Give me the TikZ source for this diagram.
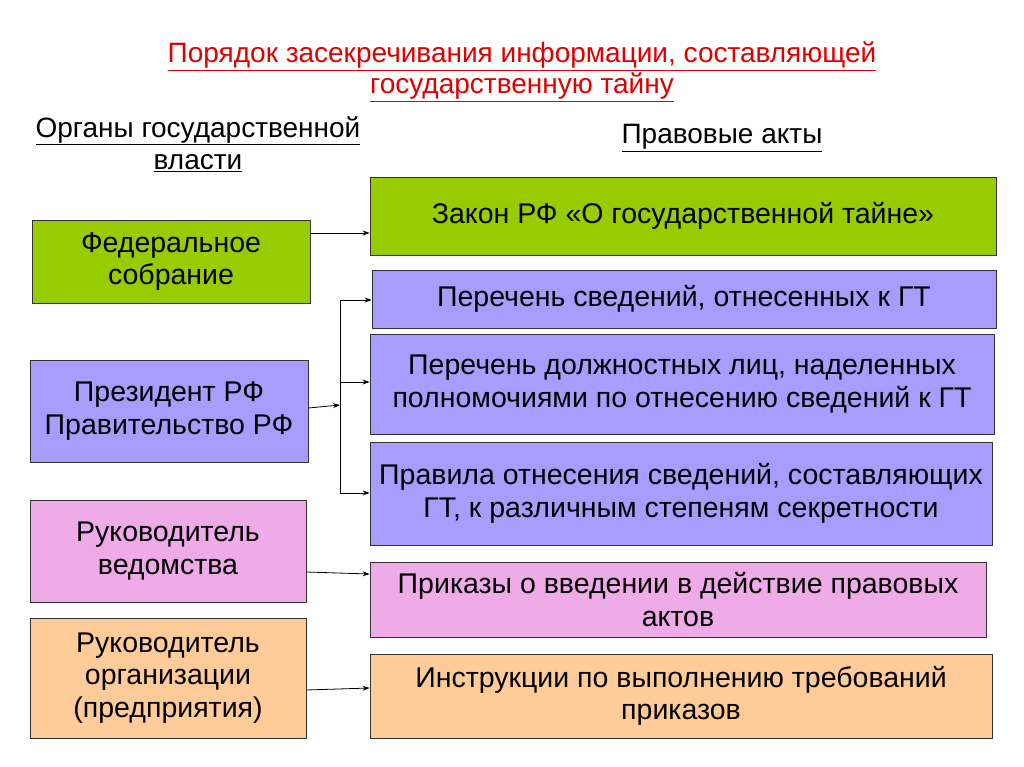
\documentclass[tikz,border=0pt]{standalone}
\usepackage{fontspec}
\setmainfont{Liberation Sans}
\usetikzlibrary{arrows.meta}
\definecolor{grn}{HTML}{99CC00}
\definecolor{lav}{HTML}{A99CFF}
\definecolor{pnk}{HTML}{EFAAE8}
\definecolor{ttl}{HTML}{E00000}
\definecolor{pch}{HTML}{FFCC99}
\begin{document}
\begin{tikzpicture}[x=1pt,y=-1pt,
  bx/.style={draw=black!80,line width=0.8pt,align=center,font=\fontsize{28.5}{32.5}\selectfont,inner sep=0pt},
  ar/.style={-{Stealth[length=7pt,width=5pt]},line width=0.8pt}]
\useasboundingbox (0,0) rectangle (1024,767);
\fill[white] (0,0) rectangle (1024,767);
\node[text=ttl,align=center,font=\fontsize{28}{31}\selectfont] (t) at (522,72) {\underline{Порядок засекречивания информации, составляющей}\\\underline{государственную тайну}};
\node[align=center,font=\fontsize{28}{32}\selectfont] (h1) at (198,144) {\underline{Органы государственной}\\\underline{власти}};
\node[font=\fontsize{28}{32}\selectfont] (h2) at (722,138) {\underline{Правовые акты}};
\node[bx,fill=grn,minimum width=278,minimum height=83] (l1) at (171,261.5) {Федеральное\\собрание};
\node[bx,fill=lav,minimum width=278,minimum height=102] (l2) at (169,411) {Президент РФ\\Правительство РФ};
\node[bx,fill=pnk,minimum width=276,minimum height=102] (l3) at (168,551) {Руководитель\\ведомства};
\node[bx,fill=pch,minimum width=276,minimum height=120] (l4) at (168,678) {Руководитель\\организации\\(предприятия)};
\node[bx,fill=grn,minimum width=626,minimum height=78] (a) at (683,216) {Закон РФ «О государственной тайне»};
\node[bx,fill=lav,minimum width=624,minimum height=58] (b) at (684,299) {Перечень сведений, отнесенных к ГТ};
\node[bx,fill=lav,minimum width=624,minimum height=100] (c) at (682,384) {Перечень должностных лиц, наделенных\\полномочиями по отнесению сведений к ГТ};
\node[bx,fill=lav,minimum width=622,minimum height=103] (d) at (681,493.5) {Правила отнесения сведений, составляющих\\ГТ, к различным степеням секретности};
\node[bx,fill=pnk,minimum width=616,minimum height=75] (e) at (678,599.5) {Приказы о введении в действие правовых\\актов};
\node[bx,fill=pch,minimum width=622,minimum height=84] (f) at (681,696) {Инструкции по выполнению требований\\приказов};
\coordinate (j) at (340,405);
\coordinate (jt) at (340,300);
\coordinate (jb) at (340,493);
\draw[ar] (l1.east |- 0,233) -- (a.west |- 0,233);
\draw[ar] (l2.east |- 0,408) -- (j);
\draw[line width=0.8pt] (jt) -- (jb);
\draw[ar] (jt) -- (b.west |- jt);
\draw[ar] (340,382) -- (c.west |- 0,382);
\draw[ar] (jb) -- (d.west |- jb);
\draw[ar] (l3.east |- 0,572) -- (e.west |- 0,574);
\draw[ar] (l4.east |- 0,690) -- (f.west |- 0,688);
\end{tikzpicture}
\end{document}
